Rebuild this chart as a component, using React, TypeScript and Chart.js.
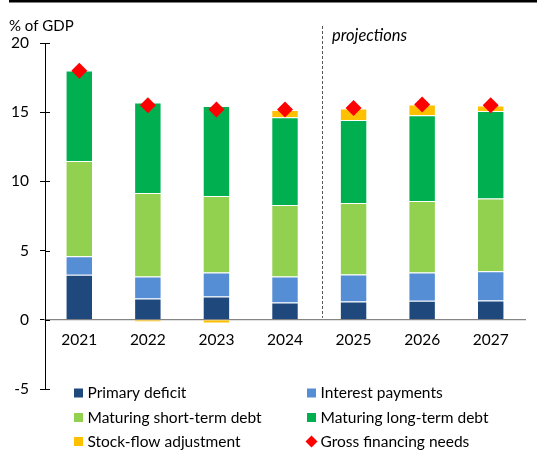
import React, { useEffect, useRef } from "react";
import { Chart, registerables } from "chart.js";
Chart.register(...registerables);

const years = ["2021", "2022", "2023", "2024", "2025", "2026", "2027"];
const primaryDeficit = [3.25, 1.54, 1.68, 1.25, 1.32, 1.37, 1.39];
const interestPayments = [1.35, 1.58, 1.73, 1.87, 1.95, 2.04, 2.12];
const maturingShortTerm = [6.87, 6.04, 5.53, 5.17, 5.17, 5.17, 5.26];
const maturingLongTerm = [6.54, 6.54, 6.51, 6.35, 6.0, 6.2, 6.32];
const stockFlowAdjustment = [0, -0.17, -0.27, 0.52, 0.82, 0.77, 0.39];
const grossFinancingNeeds = [18.0, 15.5, 15.2, 15.2, 15.3, 15.55, 15.5];
const yTicks = [-5, 0, 5, 10, 15, 20];
const yTitle = "% of GDP";
const projectionsLabel = "projections";

const FONT = "Lato, 'Liberation Sans', sans-serif";
const C = {
  pd: "#1F497D",
  ip: "#558ED5",
  ms: "#92D050",
  ml: "#00B050",
  sfa: "#FFC000",
  gfn: "#FF0000",
};

const overlay = {
  id: "overlay",
  afterDraw(chart: any) {
    const { ctx, chartArea, scales } = chart;
    const x = scales.x;
    const y = scales.y;
    ctx.save();
    // top rule
    ctx.fillStyle = "#000";
    ctx.fillRect(9, 0, chart.width - 9, 2.5);
    // y title
    ctx.font = `15px ${FONT}`;
    ctx.textAlign = "left";
    ctx.textBaseline = "alphabetic";
    ctx.fillStyle = "#000";
    ctx.fillText(yTitle, 9, 31);
    // inner half of y ticks
    ctx.strokeStyle = "#000";
    ctx.lineWidth = 1;
    yTicks.forEach((v) => {
      const py = Math.round(y.getPixelForValue(v)) + 0.5;
      ctx.beginPath();
      ctx.moveTo(chartArea.left, py);
      ctx.lineTo(chartArea.left + 5, py);
      ctx.stroke();
    });
    // dashed projections divider
    const step = x.getPixelForValue(4) - x.getPixelForValue(3);
    const dx = Math.round(x.getPixelForValue(3) + 0.54 * step) + 0.5;
    ctx.setLineDash([3, 2]);
    ctx.strokeStyle = "#555";
    ctx.beginPath();
    ctx.moveTo(dx, chartArea.top - 17);
    ctx.lineTo(dx, y.getPixelForValue(0) - 2);
    ctx.stroke();
    ctx.setLineDash([]);
    ctx.font = `italic 16.5px ${FONT}`;
    ctx.fillStyle = "#000";
    ctx.fillText(projectionsLabel, dx + 9.5, 41);
    // legend
    const ds = chart.data.datasets;
    const colX = [74, 307];
    const rowBase = [398, 422.5, 446.5];
    ctx.font = `15.5px ${FONT}`;
    ds.forEach((d: any, i: number) => {
      const cx = colX[i % 2];
      const by = rowBase[Math.floor(i / 2)];
      ctx.fillStyle = d.backgroundColor;
      if (d.type === "line") {
        const mx = cx + 4.5;
        const my = by - 5;
        ctx.beginPath();
        ctx.moveTo(mx, my - 6);
        ctx.lineTo(mx + 6, my);
        ctx.lineTo(mx, my + 6);
        ctx.lineTo(mx - 6, my);
        ctx.closePath();
        ctx.fill();
      } else {
        ctx.fillRect(cx, by - 9.5, 9, 9);
      }
      ctx.fillStyle = "#000";
      ctx.fillText(d.label, cx + 13.5, by);
    });
    ctx.restore();
  },
};

export default function App() {
  const ref = useRef<HTMLCanvasElement>(null);
  useEffect(() => {
    if (!ref.current) return;
    const barDs = (label: string, data: number[], color: string) => ({
      type: "bar" as const,
      label,
      data,
      backgroundColor: color,
      borderColor: "rgba(255,255,255,0.45)",
      borderWidth: 1,
      stack: "s",
      order: 1,
    });
    const chart = new Chart(ref.current, {
      type: "bar",
      data: {
        labels: years,
        datasets: [
          barDs("Primary deficit", primaryDeficit, C.pd),
          barDs("Interest payments", interestPayments, C.ip),
          barDs("Maturing short-term debt", maturingShortTerm, C.ms),
          barDs("Maturing long-term debt", maturingLongTerm, C.ml),
          barDs("Stock-flow adjustment", stockFlowAdjustment, C.sfa),
          {
            type: "line" as const,
            label: "Gross financing needs",
            data: grossFinancingNeeds,
            backgroundColor: C.gfn,
            borderColor: C.gfn,
            showLine: false,
            pointStyle: "rectRot",
            pointRadius: 8,
            pointBorderWidth: 0,
            stack: "g",
            order: 0,
          } as any,
        ],
      },
      options: {
        animation: false,
        responsive: true,
        maintainAspectRatio: false,
        layout: { padding: { left: 0, right: 12, top: 43, bottom: 77 } },
        plugins: { legend: { display: false }, tooltip: { enabled: false } },
        datasets: { bar: { barPercentage: 0.4, categoryPercentage: 1 } },
        scales: {
          x: {
            position: { y: 0 } as any,
            z: 1,
            grid: { display: false, drawTicks: false },
            border: { display: true, color: "#858585", width: 1.3 },
            ticks: { font: { family: FONT, size: 15.5 }, color: "#000", padding: 11 },
          },
          y: {
            stacked: true,
            min: -5,
            max: 20,
            afterFit: (s: any) => {
              s.width = 45;
            },
            afterBuildTicks: (s: any) => {
              s.ticks = yTicks.map((v) => ({ value: v }));
            },
            grid: { display: true, drawOnChartArea: false, drawTicks: true, tickLength: 5, color: "#000" },
            border: { display: true, color: "#000", width: 1 },
            ticks: { font: { family: FONT, size: 15.5 }, color: "#000", padding: 11 },
          },
        },
      },
      plugins: [overlay],
    });
    return () => chart.destroy();
  }, []);
  return (
    <div style={{ position: "fixed", left: 0, top: 0, width: 537, height: 466 }}>
      <canvas ref={ref} />
    </div>
  );
}
